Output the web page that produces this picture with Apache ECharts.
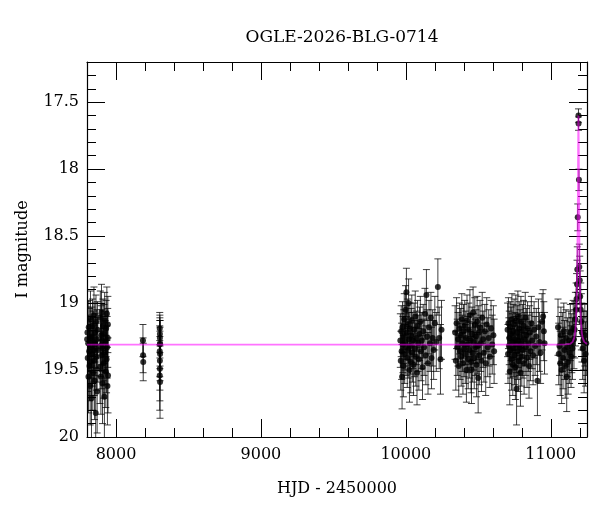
<!DOCTYPE html>
<html>
<head>
<meta charset="utf-8">
<script src="https://cdn.jsdelivr.net/npm/echarts@6/dist/echarts.min.js"></script>
<style>
html,body{margin:0;padding:0;background:#fff;}
#chart{width:600px;height:512px;}
</style>
</head>
<body>
<div id="chart"></div>
<script>
// ---- data: [HJD-2450000, I mag, error] ----
const season2017 = [
[7801,19.27,0.24],[7803,19.22,0.23],[7805,19.41,0.25],[7808,19.30,0.21],[7810,19.55,0.27],[7812,19.18,0.20],[7815,19.36,0.24],[7817,19.47,0.26],[7819,19.26,0.22],[7822,19.62,0.29],[7824,19.12,0.21],[7826,19.33,0.23],[7829,19.44,0.25],[7831,19.71,0.32],[7833,19.25,0.22],[7836,19.38,0.24],[7838,19.17,0.20],[7840,19.52,0.28],[7843,19.29,0.23],[7845,19.35,0.24],[7848,19.09,0.21],[7850,19.43,0.26],[7852,19.58,0.29],[7855,19.22,0.22],[7857,19.31,0.23],[7860,19.82,0.34],[7862,19.14,0.20],[7865,19.40,0.25],[7867,19.27,0.22],[7870,19.66,0.31],[7872,19.20,0.21],[7875,19.35,0.24],[7890,19.48,0.27],[7892,19.11,0.20],[7894,19.32,0.23],[7896,19.55,0.28],[7898,19.24,0.22],[7900,19.07,0.21],[7903,19.39,0.25],[7905,19.28,0.23],[7907,19.60,0.30],[7910,19.17,0.20],[7912,19.34,0.24],[7915,19.45,0.26],[7917,19.23,0.22],[7920,19.70,0.32],[7922,19.13,0.21],[7925,19.37,0.24],[7927,19.29,0.23],[7930,19.51,0.27],[7932,19.19,0.21],[7935,19.42,0.25],[7937,19.08,0.20],[7939,19.33,0.23],[7941,19.62,0.29],[7943,19.26,0.22],[7944,19.16,0.21],[7945,19.54,0.28]
];
const group8186 = [
[8186,19.28,0.12],[8187,19.39,0.13],[8188,19.44,0.14]
];
const group8303 = [
[8302,19.19,0.12],[8303,19.23,0.14],[8303,19.26,0.15],[8304,19.30,0.17],[8303,19.31,0.18],[8302,19.36,0.19],[8304,19.38,0.20],[8303,19.43,0.22],[8303,19.49,0.24],[8302,19.54,0.26],[8304,19.59,0.27]
];
const season2023 = [
[9962,19.28,0.20],[9965,19.43,0.22],[9968,19.21,0.19],[9971,19.36,0.21],[9974,19.55,0.24],[9977,19.18,0.19],[9980,19.31,0.21],[9983,19.47,0.23],[9986,19.25,0.20],[9989,19.12,0.19],[9992,19.38,0.22],[9995,19.29,0.21],[9998,19.05,0.18],[10001,19.33,0.21],[10004,18.92,0.18],[10007,19.22,0.20],[10010,19.41,0.22],[10013,19.16,0.19],[10016,19.35,0.21],[10019,19.00,0.18],[10022,19.27,0.20],[10025,19.50,0.24],[10028,19.19,0.19],[10031,19.32,0.21],[10034,19.44,0.23],[10037,19.24,0.20],[10041,19.13,0.19],[10045,19.37,0.22],[10049,19.28,0.21],[10053,19.46,0.23],[10057,19.20,0.20],[10061,19.34,0.21],[10065,19.10,0.19],[10069,19.40,0.22],[10073,19.26,0.20],[10077,19.52,0.24],[10081,19.17,0.19],[10085,19.30,0.21],[10090,19.42,0.23],[10095,19.23,0.20],[10100,19.14,0.19],[10105,19.36,0.22],[10110,19.28,0.21],[10115,19.48,0.24],[10120,19.21,0.20],[10126,19.33,0.21],[10132,19.08,0.19],[10138,19.39,0.22],[10142,18.94,0.19],[10147,19.25,0.20],[10153,19.45,0.23],[10160,19.18,0.20],[10167,19.30,0.21],[10173,19.11,0.19],[10177,19.41,0.23],[10185,19.26,0.21],[10192,19.35,0.22],[10200,19.15,0.20],[10210,19.29,0.22],[10221,18.88,0.21],[10230,19.26,0.23],[10239,19.42,0.26],[10246,19.20,0.22]
];
const season2024 = [
[10340,19.22,0.20],[10345,19.43,0.22],[10350,19.15,0.19],[10355,19.33,0.21],[10360,19.27,0.20],[10365,19.47,0.23],[10370,19.19,0.19],[10374,19.36,0.21],[10378,19.24,0.20],[10382,19.40,0.22],[10386,19.12,0.19],[10390,19.30,0.21],[10394,19.45,0.23],[10398,19.21,0.20],[10402,19.34,0.21],[10406,19.17,0.19],[10410,19.38,0.22],[10414,19.26,0.20],[10418,19.50,0.24],[10422,19.13,0.19],[10426,19.31,0.21],[10430,19.42,0.22],[10434,19.20,0.20],[10438,19.35,0.21],[10442,19.09,0.19],[10446,19.28,0.20],[10450,19.44,0.23],[10453,19.50,0.25],[10457,19.23,0.20],[10461,19.37,0.22],[10464,19.07,0.19],[10468,19.29,0.21],[10472,19.41,0.23],[10476,19.16,0.20],[10480,19.33,0.21],[10484,19.25,0.20],[10488,19.46,0.24],[10492,19.14,0.19],[10496,19.32,0.21],[10499,19.56,0.26],[10503,19.22,0.20],[10507,19.39,0.22],[10512,19.18,0.20],[10517,19.30,0.21],[10522,19.43,0.23],[10527,19.11,0.19],[10533,19.27,0.21],[10539,19.37,0.22],[10545,19.21,0.20],[10551,19.45,0.24],[10558,19.16,0.20],[10565,19.33,0.22],[10572,19.26,0.21],[10580,19.40,0.23],[10588,19.19,0.21],[10596,19.31,0.22],[10604,19.24,0.22],[10609,19.36,0.24]
];
const season2025 = [
[10702,19.20,0.20],[10705,19.38,0.22],[10708,19.15,0.19],[10711,19.32,0.21],[10714,19.26,0.20],[10717,19.51,0.25],[10720,19.18,0.19],[10723,19.35,0.21],[10726,19.23,0.20],[10729,19.42,0.23],[10732,19.12,0.19],[10735,19.29,0.21],[10738,19.46,0.23],[10741,19.21,0.20],[10744,19.34,0.21],[10747,19.16,0.19],[10750,19.39,0.22],[10753,19.27,0.20],[10756,19.48,0.24],[10759,19.13,0.19],[10762,19.31,0.21],[10764,19.64,0.27],[10767,19.22,0.20],[10770,19.36,0.21],[10773,19.10,0.19],[10776,19.28,0.20],[10779,19.43,0.23],[10782,19.19,0.20],[10785,19.33,0.21],[10788,19.25,0.20],[10791,19.52,0.25],[10794,19.14,0.19],[10797,19.30,0.21],[10800,19.40,0.22],[10804,19.21,0.20],[10808,19.35,0.21],[10812,19.17,0.19],[10816,19.45,0.23],[10820,19.27,0.20],[10824,19.11,0.19],[10828,19.33,0.21],[10832,19.24,0.20],[10836,19.41,0.22],[10840,19.19,0.20],[10845,19.30,0.21],[10850,19.47,0.24],[10855,19.22,0.20],[10860,19.36,0.22],[10866,19.15,0.20],[10872,19.28,0.21],[10878,19.39,0.22],[10885,19.20,0.21],[10892,19.32,0.22],[10900,19.25,0.21],[10908,19.58,0.26],[10915,19.18,0.21],[10922,19.29,0.22],[10930,19.37,0.23],[10940,19.14,0.21],[10947,19.10,0.20],[10952,19.21,0.22],[10957,19.30,0.23]
];
const season2026 = [
[11050,19.18,0.21],[11055,19.38,0.23],[11060,19.32,0.22],[11065,19.45,0.24],[11070,19.24,0.21],[11075,19.50,0.25],[11080,19.29,0.22],[11085,19.41,0.23],[11090,19.21,0.21],[11095,19.35,0.22],[11100,19.47,0.24],[11105,19.26,0.21],[11110,19.55,0.26],[11115,19.33,0.22],[11120,19.44,0.24],[11125,19.28,0.22],[11130,19.37,0.23],[11135,19.22,0.21],[11140,19.40,0.23],[11145,19.30,0.22],[11150,19.34,0.23],[11155,19.19,0.21],[11160,19.27,0.22],[11165,19.20,0.21],[11170,19.12,0.20],[11175,19.05,0.20],[11178,18.97,0.19],[11181,18.86,0.18],[11183,18.75,0.17],[11186,18.36,0.10],[11191.2,17.60,0.05],[11191.6,17.66,0.05],[11194.4,18.08,0.08],[11197,18.73,0.17],[11200,18.83,0.18],[11203,18.95,0.19],[11207,19.05,0.20],[11211,19.14,0.21],[11215,19.22,0.22],[11220,19.34,0.23],[11225,19.28,0.22],[11230,19.43,0.24],[11235,19.24,0.23],[11240,19.38,0.24],[11245,19.30,0.24]
];
// ---- model light curve (HJD-2450000, I mag) ----
const modelT = [7800,11050,11104,11133,11151,11162,11168,11173,11176.5,11179.4,11181.6,11183.8,11185.2,11186.7,11188.1,11188.8,11189.6,11190.3,11191,11191.7,11192.4,11193.2,11193.9,11195.3,11196.8,11198.2,11200.4,11202.6,11205.5,11209,11214,11220,11231,11250];
const modelM = [19.31,19.31,19.309,19.305,19.29,19.26,19.22,19.15,19.06,18.94,18.80,18.61,18.45,18.24,17.99,17.85,17.73,17.63,17.60,17.63,17.73,17.85,17.99,18.24,18.45,18.61,18.80,18.94,19.06,19.15,19.22,19.26,19.29,19.306];
// ---- ticks ----
const xMajor = [8000,9000,10000,11000];
const xMinor = [8200,8400,8600,8800,9200,9400,9600,9800,10200,10400,10600,10800,11200];
const yMajor = [17.5,18,18.5,19,19.5,20];
const yMinor = [17.3,17.4,17.6,17.7,17.8,17.9,18.1,18.2,18.3,18.4,18.6,18.7,18.8,18.9,19.1,19.2,19.3,19.4,19.6,19.7,19.8,19.9];

const titleText = 'OGLE-2026-BLG-0714';
const xName = 'HJD - 2450000';
const yName = 'I magnitude';

const points = [].concat(season2017, group8186, group8303, season2023, season2024, season2025, season2026);
const model = modelT.map((t,i)=>[t, modelM[i]]);

const FONT = 'DejaVu Serif';
const X0 = 7800, X1 = 11250, Y0 = 17.2, Y1 = 20;
const plain = v => String(v);

function xAx(pos, ticks, len, showLine, showLabel) {
  return {
    type:'value', position:pos, min:X0, max:X1, scale:false,
    splitLine:{show:false},
    axisLine:{show:showLine, onZero:false, lineStyle:{color:'#000', width:1.2}},
    axisTick:{show:true, inside:true, length:len, customValues:ticks, lineStyle:{color:'#000', width:1}},
    axisLabel:{show:showLabel, customValues:ticks, formatter:plain, margin:10, color:'#000', fontFamily:FONT, fontSize:16},
    name: showLabel ? xName : '', nameLocation:'middle', nameGap:44,
    nameTextStyle:{color:'#000', fontFamily:FONT, fontSize:16}
  };
}
function yAx(pos, ticks, len, showLine, showLabel) {
  return {
    type:'value', position:pos, min:Y0, max:Y1, inverse:true, scale:false,
    splitLine:{show:false},
    axisLine:{show:showLine, onZero:false, lineStyle:{color:'#000', width:1.2}},
    axisTick:{show:true, inside:true, length:len, customValues:ticks, lineStyle:{color:'#000', width:1}},
    axisLabel:{show:showLabel, customValues:ticks, formatter:plain, margin:8, color:'#000', fontFamily:FONT, fontSize:16},
    name: showLabel ? yName : '', nameLocation:'middle', nameGap:56, nameRotate:90,
    nameTextStyle:{color:'#000', fontFamily:FONT, fontSize:16}
  };
}

const chart = echarts.init(document.getElementById('chart'), null, {renderer:'canvas'});
chart.setOption({
  animation:false,
  backgroundColor:'#fff',
  title:{text:titleText, left:337, top:24, textAlign:'center',
    textStyle:{fontFamily:FONT, fontSize:17, fontWeight:'normal', color:'#000'}},
  grid:{left:87, right:13, top:62, bottom:75, containLabel:false},
  xAxis:[
    xAx('bottom', xMajor, 18, true, true),
    xAx('bottom', xMinor, 9, false, false),
    xAx('top', xMajor, 18, true, false),
    xAx('top', xMinor, 9, false, false)
  ],
  yAxis:[
    yAx('left', yMajor, 18, true, true),
    yAx('left', yMinor, 9, false, false),
    yAx('right', yMajor, 18, true, false),
    yAx('right', yMinor, 9, false, false)
  ],
  series:[
    {
      type:'custom', xAxisIndex:0, yAxisIndex:0, clip:true, z:2,
      data: points,
      renderItem:function(params, api){
        const x = api.value(0), y = api.value(1), e = api.value(2);
        const a = api.coord([x, y - e]);
        const b = api.coord([x, y + e]);
        const c = 3.5;
        const st = {stroke:'rgba(0,0,0,0.75)', lineWidth:1};
        return {type:'group', children:[
          {type:'line', shape:{x1:a[0], y1:a[1], x2:b[0], y2:b[1]}, style:st},
          {type:'line', shape:{x1:a[0]-c, y1:a[1], x2:a[0]+c, y2:a[1]}, style:st},
          {type:'line', shape:{x1:b[0]-c, y1:b[1], x2:b[0]+c, y2:b[1]}, style:st}
        ]};
      }
    },
    {
      type:'scatter', xAxisIndex:0, yAxisIndex:0, z:3,
      data: points.map(p=>[p[0], p[1]]),
      symbol:'circle', symbolSize:6,
      itemStyle:{color:'#000'}
    },
    {
      type:'line', xAxisIndex:0, yAxisIndex:0, z:4,
      data: model, showSymbol:false, smooth:false, clip:true,
      lineStyle:{color:'#ff00ff', width:1.8, opacity:0.55}
    }
  ]
});
</script>
</body>
</html>
